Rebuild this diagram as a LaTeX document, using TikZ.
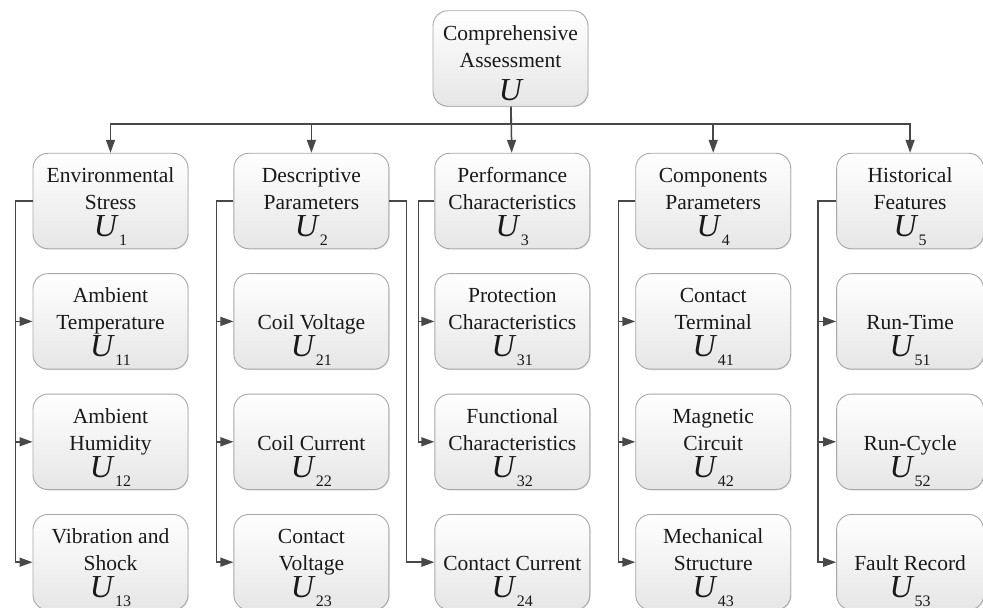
\documentclass[tikz,border=0pt]{standalone}
\usepackage{fontspec}
\setmainfont{Liberation Serif}
\usetikzlibrary{positioning,arrows.meta,shadows}
\definecolor{linegray}{RGB}{72,72,72}
\definecolor{boxborder}{RGB}{168,168,168}
\definecolor{boxbottom}{RGB}{230,230,230}

\newcommand{\Usym}{{\fontsize{32}{32}\selectfont\itshape U}}
\newcommand{\Usub}[1]{\kern2pt\raisebox{-9pt}{\fontsize{16}{16}\selectfont #1}}
\newcommand{\boxlines}[3][-2pt]{\begin{tabular}[b]{@{}c@{}}#2\\[#1]#3\end{tabular}}

\begin{document}
\begin{tikzpicture}[x=1pt, y=1pt, node distance=24pt and 45pt,
    crit/.style={rectangle, rounded corners=15pt, draw=boxborder, line width=0.9pt,
      top color=white, bottom color=boxbottom, minimum width=155pt, inner sep=0pt,
      text height=83pt, text depth=12.5pt, font=\fontsize{21.5}{27}\selectfont, text=black!90,
      drop shadow={shadow xshift=0.7pt, shadow yshift=-0.9pt, opacity=0.25, fill=black!50}},
    link/.style={draw=linegray, line width=1.5pt, -{Triangle[length=13pt,width=9pt]}}]
  \useasboundingbox (0,0) rectangle (983,-608);

  % top level
  \node[crit, text height=89.5pt, text depth=6pt] (u) at (510.5,-58.5) {\boxlines[4pt]{Comprehensive\\Assessment}{\Usym}};

  % criteria
  \node[crit] (u1) at (110.5,-201) {\boxlines{Environmental\\Stress}{\Usym\Usub{1}}};
  \node[crit, right=of u1] (u2) {\boxlines{Descriptive\\Parameters}{\Usym\Usub{2}}};
  \node[crit, right=of u2] (u3) {\boxlines{Performance\\Characteristics}{\Usym\Usub{3}}};
  \node[crit, right=of u3] (u4) {\boxlines{Components\\Parameters}{\Usym\Usub{4}}};
  \node[crit, right=of u4, minimum width=147pt] (u5) {\boxlines{Historical\\Features}{\Usym\Usub{5}}};

  % sub-criteria
  \node[crit, below=of u1] (u11) {\boxlines{Ambient\\Temperature}{\Usym\Usub{11}}};
  \node[crit, below=of u11] (u12) {\boxlines{Ambient\\Humidity}{\Usym\Usub{12}}};
  \node[crit, below=of u12] (u13) {\boxlines{Vibration and\\Shock}{\Usym\Usub{13}}};

  \node[crit, below=of u2] (u21) {\boxlines{Coil Voltage}{\Usym\Usub{21}}};
  \node[crit, below=of u21] (u22) {\boxlines{Coil Current}{\Usym\Usub{22}}};
  \node[crit, below=of u22] (u23) {\boxlines{Contact\\Voltage}{\Usym\Usub{23}}};

  \node[crit, below=of u3] (u31) {\boxlines{Protection\\Characteristics}{\Usym\Usub{31}}};
  \node[crit, below=of u31] (u32) {\boxlines{Functional\\Characteristics}{\Usym\Usub{32}}};
  \node[crit, below=of u32] (u24) {\boxlines{Contact Current}{\Usym\Usub{24}}};

  \node[crit, below=of u4] (u41) {\boxlines{Contact\\Terminal}{\Usym\Usub{41}}};
  \node[crit, below=of u41] (u42) {\boxlines{Magnetic\\Circuit}{\Usym\Usub{42}}};
  \node[crit, below=of u42] (u43) {\boxlines{Mechanical\\Structure}{\Usym\Usub{43}}};

  \node[crit, below=of u5, minimum width=147pt] (u51) {\boxlines{Run-Time}{\Usym\Usub{51}}};
  \node[crit, below=of u51, minimum width=147pt] (u52) {\boxlines{Run-Cycle}{\Usym\Usub{52}}};
  \node[crit, below=of u52, minimum width=147pt] (u53) {\boxlines{Fault Record}{\Usym\Usub{53}}};

  % links
  \draw[link] (u) -- (u3);
  \foreach \k in {1,2,4,5}
    \draw[link] (u.south) -- ++(0,-17.5) -| (u\k.north);

  \foreach \c in {11,12,13}
    \draw[link] (u1.west) -- ++(-17,0) |- (u\c.west);
  \foreach \c in {21,22,23}
    \draw[link] (u2.west) -- ++(-17,0) |- (u\c.west);
  \draw[link] (u2.east) -- ++(17,0) |- (u24.west);
  \foreach \c in {31,32}
    \draw[link] (u3.west) -- ++(-16,0) |- (u\c.west);
  \foreach \c in {41,42,43}
    \draw[link] (u4.west) -- ++(-17,0) |- (u\c.west);
  \foreach \c in {51,52,53}
    \draw[link] (u5.west) -- ++(-18,0) |- (u\c.west);
\end{tikzpicture}
\end{document}
